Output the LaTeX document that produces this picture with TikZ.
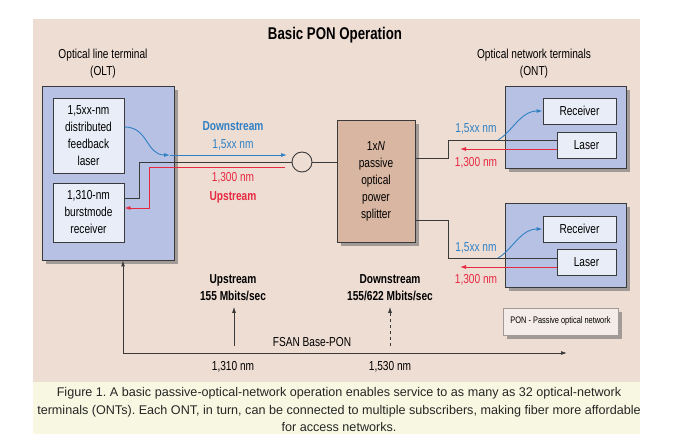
\documentclass[tikz,border=0pt]{standalone}
\usepackage{fontspec}
\setmainfont{Liberation Sans}
\newfontfamily\condfont[FakeStretch=0.78]{Liberation Sans}
\usetikzlibrary{arrows.meta,shadows}
\frenchspacing

\definecolor{panelbg}{HTML}{EEDDD3}
\definecolor{capbg}{HTML}{F8F8E2}
\definecolor{termbg}{HTML}{B7C1E3}
\definecolor{boxbg}{HTML}{E9EDF7}
\definecolor{splbg}{HTML}{D8B6A2}
\definecolor{legbg}{HTML}{F4ECE8}
\definecolor{shade}{HTML}{A29A96}
\definecolor{downblue}{HTML}{2F80C4}
\definecolor{upred}{HTML}{E62940}
\definecolor{wire}{HTML}{3A3A3A}

\begin{document}
\begin{tikzpicture}[
  x=1pt, y=-1pt,
  font=\condfont\fontsize{13}{17}\selectfont,
  >={Latex[length=6pt,width=4pt]},
  term/.style={draw=wire, line width=0.9pt, fill=termbg, inner sep=0pt,
    drop shadow={shadow xshift=4pt, shadow yshift=-4pt, fill=shade, opacity=1}},
  part/.style={draw=wire, line width=0.9pt, fill=boxbg, inner sep=0pt, align=center},
  lbl/.style={align=center, inner sep=1pt},
  fibre/.style={draw=wire, line width=0.9pt},
  down/.style={draw=downblue, line width=0.9pt},
  up/.style={draw=upred, line width=0.9pt}
  ]

  \useasboundingbox (0,0) rectangle (680,443);
  \fill[panelbg] (33,19) rectangle (640,382);
  \fill[capbg] (33,382) rectangle (640,434);

  \node[lbl, font=\condfont\bfseries\fontsize{17}{20}\selectfont] (title) at (335,35) {Basic PON Operation};

  % OLT side
  \node[lbl] (oltlbl) at (103,64) {Optical line terminal\\(OLT)};
  \node[term, minimum width=132pt, minimum height=174pt] (olt) at (108,173) {};
  \node[part, minimum width=71pt, minimum height=75pt] (olas) at (88.5,135.5) {1,5xx-nm\\distributed\\feedback\\laser};
  \node[part, minimum width=71pt, minimum height=59pt] (orec) at (88.5,212.5) {1,310-nm\\burstmode\\receiver};

  % coupler and splitter
  \node[circle, draw=wire, line width=0.9pt, minimum size=20pt, inner sep=0pt] (cpl) at (302,162) {};
  \node[term, fill=splbg, minimum width=78pt, minimum height=122pt, align=center] (spl) at (376,181) {1x\textit{N}\\passive\\optical\\power\\splitter};

  \node[lbl, text=downblue, font=\condfont\bfseries\fontsize{13}{17}\selectfont] (dslbl) at (233,126) {Downstream};
  \node[lbl, text=downblue] (dsnm) at (233,145) {1,5xx nm};
  \node[lbl, text=upred] (usnm) at (233,178) {1,300 nm};
  \node[lbl, text=upred, font=\condfont\bfseries\fontsize{13}{17}\selectfont] (uslbl) at (233,197) {Upstream};

  % ONT side
  \node[lbl] (ontlbl) at (534,64) {Optical network terminals\\(ONT)};
  \node[term, minimum width=121pt, minimum height=82pt] (ont1) at (565.5,127) {};
  \node[part, minimum width=73pt, minimum height=26pt] (rx1) at (579.5,111) {Receiver};
  \node[part, minimum width=59pt, minimum height=26pt] (lz1) at (586.5,145) {Laser};
  \node[term, minimum width=121pt, minimum height=84pt] (ont2) at (565.5,245) {};
  \node[part, minimum width=73pt, minimum height=26pt] (rx2) at (579.5,229) {Receiver};
  \node[part, minimum width=59pt, minimum height=26pt] (lz2) at (586.5,262) {Laser};

  \node[lbl, text=downblue] (ds1) at (476,129) {1,5xx nm};
  \node[lbl, text=upred] (us1) at (476,163) {1,300 nm};
  \node[lbl, text=downblue] (ds2) at (476,248) {1,5xx nm};
  \node[lbl, text=upred] (us2) at (476,280) {1,300 nm};

  % corners of the fibre runs
  \coordinate (k1) at (139,162);
  \coordinate (d1) at (170,155);
  \coordinate (d2) at (287,155);
  \coordinate (u1) at (285,167);
  \coordinate (u2) at (149,208);
  \coordinate (s1) at (448,140);
  \coordinate (b1) at (498,140);
  \coordinate (r1) at (460,149);
  \coordinate (s2) at (448,258);
  \coordinate (b2) at (498,258);
  \coordinate (r2) at (460,267);

  \draw[fibre] ([yshift=14.5pt]orec.east) -| (k1) -- (cpl.west);
  \draw[fibre] (cpl.east) -- (spl.west |- cpl.east);
  \draw[down, ->] ([yshift=8.5pt]olas.east) .. controls +(24,0) and +(-24,0) .. (d1);
  \draw[down, ->] (d1) -- (d2);
  \draw[up, ->] (u1) -| (u2) -- (orec.east |- u2);

  \draw[fibre] ([yshift=23pt]spl.east) -| (s1) -- (lz1.west |- s1);
  \draw[down, ->] (b1) .. controls +(14,-8) and +(-22,0) .. (rx1.west);
  \draw[up, ->] (lz1.west |- r1) -- (r1);

  \draw[fibre] ([yshift=-39pt]spl.east) -| (s2) -- (lz2.west |- s2);
  \draw[down, ->] (b2) .. controls +(14,-8) and +(-22,0) .. (rx2.west);
  \draw[up, ->] (lz2.west |- r2) -- (r2);

  % wavelength axis
  \coordinate (ax0) at (123,353);
  \coordinate (ax1) at (567,353);
  \coordinate (up0) at (234,346);
  \coordinate (dn0) at (390,346);
  \draw[fibre, <->] (olt.south -| ax0) -- (ax0) -- (ax1);

  \node[lbl, font=\condfont\bfseries\fontsize{13}{17}\selectfont] (uprate) at (233,287.5) {Upstream\\155 Mbits/sec};
  \node[lbl, font=\condfont\bfseries\fontsize{13}{17}\selectfont] (dnrate) at (390,287.5) {Downstream\\155/622 Mbits/sec};
  \draw[fibre, ->] (up0) -- (up0 |- uprate.south) [shorten >=5pt];
  \draw[fibre, dashed, ->] (dn0) -- (dn0 |- dnrate.south) [shorten >=5pt];

  \node[lbl] (fsan) at (312,342) {FSAN Base-PON};
  \node[lbl] (w1310) at (233,367) {1,310 nm};
  \node[lbl] (w1530) at (390,367) {1,530 nm};

  \node[term, fill=legbg, draw=shade, minimum width=115pt, minimum height=27pt,
    font=\condfont\fontsize{9.5}{11}\selectfont] (legend) at (560.5,321.5) {PON - Passive optical network};

  % caption
  \node[align=center, font=\fontsize{12.6}{17.5}\selectfont, text=black!85] (caption) at (339,409.5)
    {Figure 1. A basic passive-optical-network operation enables service to as many as 32 optical-network\\
     terminals (ONTs). Each ONT, in turn, can be connected to multiple subscribers, making fiber more affordable\\
     for access networks.};

\end{tikzpicture}
\end{document}
